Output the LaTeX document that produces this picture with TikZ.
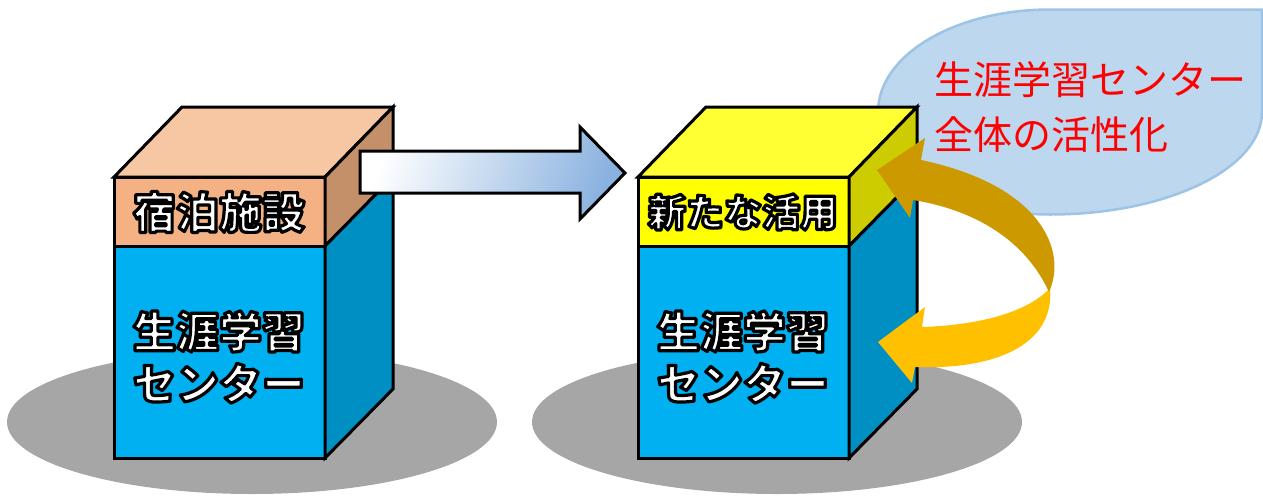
\documentclass[tikz,border=0pt]{standalone}
\usepackage{fontspec}
\usepackage{xcolor}
\usepackage{tikz}
\usetikzlibrary{positioning}
\newfontfamily\jpfont{Noto Sans CJK JP}
% white letters with a thin black rim
\newcommand\rimtext[1]{\special{pdf:literal direct 0 G 3.2 w 1 j 2 Tr}#1\special{pdf:literal direct 0 Tr}}
\definecolor{peachTop}{HTML}{F7C6A2}
\definecolor{peachFront}{HTML}{F4B183}
\definecolor{peachSide}{HTML}{C4906A}
\definecolor{skyFront}{HTML}{00B0F0}
\definecolor{skySide}{HTML}{008FC2}
\definecolor{lemonTop}{HTML}{FFFF33}
\definecolor{lemonFront}{HTML}{FFFF00}
\definecolor{lemonSide}{HTML}{CCCC00}
\definecolor{floorGray}{HTML}{A6A6A6}
\definecolor{bubbleFill}{HTML}{BDD7EE}
\definecolor{bubbleLine}{HTML}{9DC3E6}
\definecolor{arrowBlue}{HTML}{8AB2E0}
\definecolor{goldDark}{HTML}{CC9900}
\definecolor{goldLight}{HTML}{FFC000}
\tikzset{
    face/.style={draw=black, line width=3pt, line join=miter},
    floor/.style={fill=floorGray},
    bubble/.style={fill=bubbleFill, draw=bubbleLine, line width=2.5pt},
    bigarrow/.style={
        draw=black,
        line width=3pt,
        line join=miter,
        left color=white,
        right color=arrowBlue,
        shading angle=70
    },
    boxlabel/.style={
        text=white,
        inner sep=0pt,
        align=center,
        font=\jpfont\bfseries\fontsize{43}{52}\selectfont
    },
    slogan/.style={
        text=red,
        inner sep=0pt,
        align=left,
        font=\jpfont\fontsize{39}{55}\selectfont
    }
}

\begin{document}
\begin{tikzpicture}[x=1pt, y=-1pt]
    \useasboundingbox (0,0) rectangle (1263,496);

    % floor shadows
    \fill[floor] (252,422) ellipse [x radius=245, y radius=72];
    \fill[floor] (777,422) ellipse [x radius=245, y radius=72];

    % speech bubble
    \filldraw[bubble] (1050,9.5) -- (1262,9.5) -- (1262,112)
        .. controls (1262,168.6) and (1167,214.5) .. (1050,214.5)
        .. controls (955,214.5) and (878,168.6) .. (878,112)
        .. controls (878,55.1) and (955,9.5) .. (1050,9.5) -- cycle;

    % left block
    \filldraw[face, fill=skyFront] (114,246) rectangle (325,458);
    \filldraw[face, fill=peachFront] (114,177) rectangle (325,246);
    \filldraw[face, fill=peachTop] (114,177) -- (182,107) -- (393,107) -- (325,177) -- cycle;
    \filldraw[face, fill=peachSide] (325,177) -- (393,107) -- (393,177) -- (325,246) -- cycle;
    \filldraw[face, fill=skySide] (325,246) -- (393,177) -- (393,389) -- (325,458) -- cycle;

    % right block
    \filldraw[face, fill=skyFront] (638,246) rectangle (849,458);
    \filldraw[face, fill=lemonFront] (638,177) rectangle (849,246);
    \filldraw[face, fill=lemonTop] (638,177) -- (706,107) -- (917,107) -- (849,177) -- cycle;
    \filldraw[face, fill=lemonSide] (849,177) -- (917,107) -- (917,177) -- (849,246) -- cycle;
    \filldraw[face, fill=skySide] (849,246) -- (917,177) -- (917,389) -- (849,458) -- cycle;

    % transition arrow
    \path[bigarrow] (360,151) -- (580,151) -- (580,127) -- (625,173)
        -- (580,219) -- (580,193) -- (360,193) -- cycle;

    % block labels
    \node[boxlabel] (hotel) at (219,212) {\rimtext{宿泊施設}};
    \node[boxlabel] (lifelongA) at (219,357)
        {\rimtext{生涯学習}\\\rimtext{センター}};
    \node[boxlabel, font=\jpfont\bfseries\fontsize{38}{46}\selectfont] (newuse) at (743,212)
        {\rimtext{新たな活用}};
    \node[boxlabel] (lifelongB) at (743,357)
        {\rimtext{生涯学習}\\\rimtext{センター}};

    % circular arrows
    \fill[goldLight] (1050,288)
        .. controls (1055,345) and (995,370) .. (915,367)
        -- (912,383) -- (878,342) -- (925,307) -- (922,327)
        .. controls (985,325) and (1030,310) .. (1050,288) -- cycle;
    \fill[goldDark] (1049,292)
        .. controls (1068,250) and (1040,185) .. (921,160)
        -- (925,138) -- (877,170) -- (910,218) -- (913,200)
        .. controls (975,210) and (1025,240) .. (1049,292) -- cycle;

    % bubble text
    \node[slogan, anchor=west] (goal) at (934,107)
        {生涯学習センター\\全体の活性化};
\end{tikzpicture}
\end{document}
